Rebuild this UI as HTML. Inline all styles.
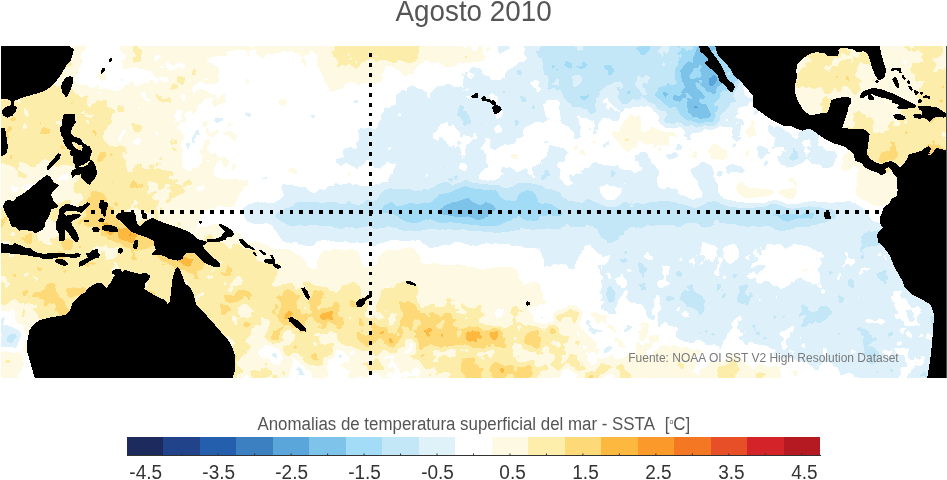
<!DOCTYPE html>
<html><head><meta charset="utf-8"><title>SSTA Agosto 2010</title>
<style>
html,body{margin:0;padding:0;background:#fff}
body{width:947px;height:480px;overflow:hidden;position:relative}
svg{position:absolute;left:0;top:0;display:block;will-change:transform}
text{font-family:"Liberation Sans",sans-serif}
</style></head><body>
<svg width="947" height="480" viewBox="0 0 947 480">
<defs>
<filter id="fld" x="-60" y="-20" width="1070" height="470" filterUnits="userSpaceOnUse" color-interpolation-filters="sRGB">
<feGaussianBlur in="SourceGraphic" stdDeviation="6" result="b"/>
<feColorMatrix in="b" type="matrix" values="1 0 0 0 0 1 0 0 0 0 1 0 0 0 0 0 0 0 0 1" result="fr"/>
<feColorMatrix in="b" type="matrix" values="0 1 0 0 0 0 1 0 0 0 0 1 0 0 0 0 0 0 0 1" result="mk"/>
<feTurbulence type="fractalNoise" baseFrequency="0.055" numOctaves="3" seed="7" result="n"/>
<feColorMatrix in="n" type="matrix" values="1 0 0 0 0 1 0 0 0 0 1 0 0 0 0 0 0 0 0 1" result="n1"/>
<feComposite in="mk" in2="n1" operator="arithmetic" k1="0.38" k2="-0.19" k3="0" k4="0.5" result="nz"/>
<feComposite in="fr" in2="nz" operator="arithmetic" k1="0" k2="1" k3="1" k4="-0.5" result="c"/>
<feComponentTransfer in="c">
<feFuncR type="discrete" tableValues="0.3529 0.4941 0.6392 0.7686 0.8745 1.0000 0.9961 0.9922 0.9922 0.9922 0.9843"/>
<feFuncG type="discrete" tableValues="0.6471 0.7647 0.8627 0.9059 0.9490 1.0000 0.9765 0.9333 0.8510 0.7216 0.6039"/>
<feFuncB type="discrete" tableValues="0.8510 0.9176 0.9647 0.9725 0.9804 1.0000 0.8902 0.6706 0.4706 0.2510 0.1647"/>
</feComponentTransfer></filter>
<clipPath id="mc"><rect x="1" y="46" width="945" height="332"/></clipPath>
</defs>
<g clip-path="url(#mc)">
<g filter="url(#fld)">
<rect x="-60" y="-20" width="1070" height="470" fill="#809900"/>
<rect x="-60" y="-20" width="80" height="86" fill="#ae9e00"/>
<rect x="20" y="-20" width="20" height="86" fill="#ae9e00"/>
<rect x="40" y="-20" width="20" height="86" fill="#ae9e00"/>
<rect x="60" y="-20" width="20" height="86" fill="#979e00"/>
<rect x="80" y="-20" width="20" height="86" fill="#809e00"/>
<rect x="100" y="-20" width="20" height="86" fill="#809e00"/>
<rect x="120" y="-20" width="20" height="86" fill="#979e00"/>
<rect x="140" y="-20" width="20" height="86" fill="#979e00"/>
<rect x="160" y="-20" width="20" height="86" fill="#979e00"/>
<rect x="180" y="-20" width="20" height="86" fill="#979e00"/>
<rect x="200" y="-20" width="20" height="86" fill="#979e00"/>
<rect x="220" y="-20" width="20" height="86" fill="#809e00"/>
<rect x="240" y="-20" width="20" height="86" fill="#806600"/>
<rect x="260" y="-20" width="20" height="86" fill="#806600"/>
<rect x="280" y="-20" width="20" height="86" fill="#806600"/>
<rect x="300" y="-20" width="20" height="86" fill="#806600"/>
<rect x="320" y="-20" width="20" height="86" fill="#976600"/>
<rect x="340" y="-20" width="20" height="86" fill="#ae6600"/>
<rect x="360" y="-20" width="20" height="86" fill="#ae6600"/>
<rect x="380" y="-20" width="20" height="86" fill="#ae6600"/>
<rect x="400" y="-20" width="20" height="86" fill="#ae6600"/>
<rect x="420" y="-20" width="20" height="86" fill="#976600"/>
<rect x="440" y="-20" width="20" height="86" fill="#976600"/>
<rect x="460" y="-20" width="20" height="86" fill="#979e00"/>
<rect x="480" y="-20" width="20" height="86" fill="#809e00"/>
<rect x="500" y="-20" width="20" height="86" fill="#809e00"/>
<rect x="520" y="-20" width="20" height="86" fill="#689e00"/>
<rect x="540" y="-20" width="20" height="86" fill="#519e00"/>
<rect x="560" y="-20" width="20" height="86" fill="#519e00"/>
<rect x="580" y="-20" width="20" height="86" fill="#519e00"/>
<rect x="600" y="-20" width="20" height="86" fill="#519e00"/>
<rect x="620" y="-20" width="20" height="86" fill="#519e00"/>
<rect x="640" y="-20" width="20" height="86" fill="#519e00"/>
<rect x="660" y="-20" width="20" height="86" fill="#519e00"/>
<rect x="680" y="-20" width="20" height="86" fill="#3a9e00"/>
<rect x="700" y="-20" width="20" height="86" fill="#239e00"/>
<rect x="720" y="-20" width="20" height="86" fill="#3a9e00"/>
<rect x="740" y="-20" width="20" height="86" fill="#689e00"/>
<rect x="760" y="-20" width="20" height="86" fill="#809e00"/>
<rect x="780" y="-20" width="20" height="86" fill="#979e00"/>
<rect x="800" y="-20" width="20" height="86" fill="#ae9e00"/>
<rect x="820" y="-20" width="20" height="86" fill="#ae9e00"/>
<rect x="840" y="-20" width="20" height="86" fill="#979e00"/>
<rect x="860" y="-20" width="20" height="86" fill="#ae9e00"/>
<rect x="880" y="-20" width="20" height="86" fill="#979e00"/>
<rect x="900" y="-20" width="20" height="86" fill="#979e00"/>
<rect x="920" y="-20" width="20" height="86" fill="#ae9e00"/>
<rect x="940" y="-20" width="70" height="86" fill="#979e00"/>
<rect x="-60" y="66" width="80" height="20" fill="#ae9e00"/>
<rect x="20" y="66" width="20" height="20" fill="#ae9e00"/>
<rect x="40" y="66" width="20" height="20" fill="#ae9e00"/>
<rect x="60" y="66" width="20" height="20" fill="#979e00"/>
<rect x="80" y="66" width="20" height="20" fill="#809e00"/>
<rect x="100" y="66" width="20" height="20" fill="#809e00"/>
<rect x="120" y="66" width="20" height="20" fill="#809e00"/>
<rect x="140" y="66" width="20" height="20" fill="#809e00"/>
<rect x="160" y="66" width="20" height="20" fill="#979e00"/>
<rect x="180" y="66" width="20" height="20" fill="#979e00"/>
<rect x="200" y="66" width="20" height="20" fill="#979e00"/>
<rect x="220" y="66" width="20" height="20" fill="#809e00"/>
<rect x="240" y="66" width="20" height="20" fill="#806600"/>
<rect x="260" y="66" width="20" height="20" fill="#806600"/>
<rect x="280" y="66" width="20" height="20" fill="#806600"/>
<rect x="300" y="66" width="20" height="20" fill="#806600"/>
<rect x="320" y="66" width="20" height="20" fill="#976600"/>
<rect x="340" y="66" width="20" height="20" fill="#976600"/>
<rect x="360" y="66" width="20" height="20" fill="#976600"/>
<rect x="380" y="66" width="20" height="20" fill="#806600"/>
<rect x="400" y="66" width="20" height="20" fill="#806600"/>
<rect x="420" y="66" width="20" height="20" fill="#806600"/>
<rect x="440" y="66" width="20" height="20" fill="#806600"/>
<rect x="460" y="66" width="20" height="20" fill="#689e00"/>
<rect x="480" y="66" width="20" height="20" fill="#809e00"/>
<rect x="500" y="66" width="20" height="20" fill="#689e00"/>
<rect x="520" y="66" width="20" height="20" fill="#689e00"/>
<rect x="540" y="66" width="20" height="20" fill="#519e00"/>
<rect x="560" y="66" width="20" height="20" fill="#519e00"/>
<rect x="580" y="66" width="20" height="20" fill="#519e00"/>
<rect x="600" y="66" width="20" height="20" fill="#519e00"/>
<rect x="620" y="66" width="20" height="20" fill="#519e00"/>
<rect x="640" y="66" width="20" height="20" fill="#519e00"/>
<rect x="660" y="66" width="20" height="20" fill="#519e00"/>
<rect x="680" y="66" width="20" height="20" fill="#239e00"/>
<rect x="700" y="66" width="20" height="20" fill="#0c9e00"/>
<rect x="720" y="66" width="20" height="20" fill="#239e00"/>
<rect x="740" y="66" width="20" height="20" fill="#689e00"/>
<rect x="760" y="66" width="20" height="20" fill="#809e00"/>
<rect x="780" y="66" width="20" height="20" fill="#979e00"/>
<rect x="800" y="66" width="20" height="20" fill="#ae9e00"/>
<rect x="820" y="66" width="20" height="20" fill="#ae9e00"/>
<rect x="840" y="66" width="20" height="20" fill="#ae9e00"/>
<rect x="860" y="66" width="20" height="20" fill="#979e00"/>
<rect x="880" y="66" width="20" height="20" fill="#979e00"/>
<rect x="900" y="66" width="20" height="20" fill="#979e00"/>
<rect x="920" y="66" width="20" height="20" fill="#ae9e00"/>
<rect x="940" y="66" width="70" height="20" fill="#ae9e00"/>
<rect x="-60" y="86" width="80" height="20" fill="#ae9e00"/>
<rect x="20" y="86" width="20" height="20" fill="#ae9e00"/>
<rect x="40" y="86" width="20" height="20" fill="#ae9e00"/>
<rect x="60" y="86" width="20" height="20" fill="#ae9e00"/>
<rect x="80" y="86" width="20" height="20" fill="#979e00"/>
<rect x="100" y="86" width="20" height="20" fill="#979e00"/>
<rect x="120" y="86" width="20" height="20" fill="#979e00"/>
<rect x="140" y="86" width="20" height="20" fill="#979e00"/>
<rect x="160" y="86" width="20" height="20" fill="#979e00"/>
<rect x="180" y="86" width="20" height="20" fill="#979e00"/>
<rect x="200" y="86" width="20" height="20" fill="#809e00"/>
<rect x="220" y="86" width="20" height="20" fill="#809e00"/>
<rect x="240" y="86" width="20" height="20" fill="#806600"/>
<rect x="260" y="86" width="20" height="20" fill="#806600"/>
<rect x="280" y="86" width="20" height="20" fill="#806600"/>
<rect x="300" y="86" width="20" height="20" fill="#806600"/>
<rect x="320" y="86" width="20" height="20" fill="#806600"/>
<rect x="340" y="86" width="20" height="20" fill="#806600"/>
<rect x="360" y="86" width="20" height="20" fill="#806600"/>
<rect x="380" y="86" width="20" height="20" fill="#806600"/>
<rect x="400" y="86" width="20" height="20" fill="#686600"/>
<rect x="420" y="86" width="20" height="20" fill="#686600"/>
<rect x="440" y="86" width="20" height="20" fill="#686600"/>
<rect x="460" y="86" width="20" height="20" fill="#689e00"/>
<rect x="480" y="86" width="20" height="20" fill="#689e00"/>
<rect x="500" y="86" width="20" height="20" fill="#689e00"/>
<rect x="520" y="86" width="20" height="20" fill="#689e00"/>
<rect x="540" y="86" width="20" height="20" fill="#689e00"/>
<rect x="560" y="86" width="20" height="20" fill="#519e00"/>
<rect x="580" y="86" width="20" height="20" fill="#519e00"/>
<rect x="600" y="86" width="20" height="20" fill="#689e00"/>
<rect x="620" y="86" width="20" height="20" fill="#519e00"/>
<rect x="640" y="86" width="20" height="20" fill="#519e00"/>
<rect x="660" y="86" width="20" height="20" fill="#3a9e00"/>
<rect x="680" y="86" width="20" height="20" fill="#239e00"/>
<rect x="700" y="86" width="20" height="20" fill="#239e00"/>
<rect x="720" y="86" width="20" height="20" fill="#519e00"/>
<rect x="740" y="86" width="20" height="20" fill="#809e00"/>
<rect x="760" y="86" width="20" height="20" fill="#809e00"/>
<rect x="780" y="86" width="20" height="20" fill="#979e00"/>
<rect x="800" y="86" width="20" height="20" fill="#979e00"/>
<rect x="820" y="86" width="20" height="20" fill="#979e00"/>
<rect x="840" y="86" width="20" height="20" fill="#ae9e00"/>
<rect x="860" y="86" width="20" height="20" fill="#979e00"/>
<rect x="880" y="86" width="20" height="20" fill="#979e00"/>
<rect x="900" y="86" width="20" height="20" fill="#979e00"/>
<rect x="920" y="86" width="20" height="20" fill="#ae9e00"/>
<rect x="940" y="86" width="70" height="20" fill="#ae9e00"/>
<rect x="-60" y="106" width="80" height="20" fill="#ae9e00"/>
<rect x="20" y="106" width="20" height="20" fill="#ae9e00"/>
<rect x="40" y="106" width="20" height="20" fill="#ae9e00"/>
<rect x="60" y="106" width="20" height="20" fill="#ae9e00"/>
<rect x="80" y="106" width="20" height="20" fill="#ae9e00"/>
<rect x="100" y="106" width="20" height="20" fill="#ae9e00"/>
<rect x="120" y="106" width="20" height="20" fill="#979e00"/>
<rect x="140" y="106" width="20" height="20" fill="#979e00"/>
<rect x="160" y="106" width="20" height="20" fill="#979e00"/>
<rect x="180" y="106" width="20" height="20" fill="#809e00"/>
<rect x="200" y="106" width="20" height="20" fill="#809e00"/>
<rect x="220" y="106" width="20" height="20" fill="#809e00"/>
<rect x="240" y="106" width="20" height="20" fill="#806600"/>
<rect x="260" y="106" width="20" height="20" fill="#806600"/>
<rect x="280" y="106" width="20" height="20" fill="#806600"/>
<rect x="300" y="106" width="20" height="20" fill="#806600"/>
<rect x="320" y="106" width="20" height="20" fill="#806600"/>
<rect x="340" y="106" width="20" height="20" fill="#806600"/>
<rect x="360" y="106" width="20" height="20" fill="#806600"/>
<rect x="380" y="106" width="20" height="20" fill="#686600"/>
<rect x="400" y="106" width="20" height="20" fill="#686600"/>
<rect x="420" y="106" width="20" height="20" fill="#686600"/>
<rect x="440" y="106" width="20" height="20" fill="#686600"/>
<rect x="460" y="106" width="20" height="20" fill="#689e00"/>
<rect x="480" y="106" width="20" height="20" fill="#689e00"/>
<rect x="500" y="106" width="20" height="20" fill="#689e00"/>
<rect x="520" y="106" width="20" height="20" fill="#689e00"/>
<rect x="540" y="106" width="20" height="20" fill="#809e00"/>
<rect x="560" y="106" width="20" height="20" fill="#689e00"/>
<rect x="580" y="106" width="20" height="20" fill="#689e00"/>
<rect x="600" y="106" width="20" height="20" fill="#689e00"/>
<rect x="620" y="106" width="20" height="20" fill="#979e00"/>
<rect x="640" y="106" width="20" height="20" fill="#809e00"/>
<rect x="660" y="106" width="20" height="20" fill="#519e00"/>
<rect x="680" y="106" width="20" height="20" fill="#3a9e00"/>
<rect x="700" y="106" width="20" height="20" fill="#3a9e00"/>
<rect x="720" y="106" width="20" height="20" fill="#689e00"/>
<rect x="740" y="106" width="20" height="20" fill="#809e00"/>
<rect x="760" y="106" width="20" height="20" fill="#809e00"/>
<rect x="780" y="106" width="20" height="20" fill="#809e00"/>
<rect x="800" y="106" width="20" height="20" fill="#979e00"/>
<rect x="820" y="106" width="20" height="20" fill="#979e00"/>
<rect x="840" y="106" width="20" height="20" fill="#979e00"/>
<rect x="860" y="106" width="20" height="20" fill="#979e00"/>
<rect x="880" y="106" width="20" height="20" fill="#979e00"/>
<rect x="900" y="106" width="20" height="20" fill="#ae9e00"/>
<rect x="920" y="106" width="20" height="20" fill="#ae9e00"/>
<rect x="940" y="106" width="70" height="20" fill="#ae9e00"/>
<rect x="-60" y="126" width="80" height="20" fill="#ae9e00"/>
<rect x="20" y="126" width="20" height="20" fill="#ae9e00"/>
<rect x="40" y="126" width="20" height="20" fill="#ae9e00"/>
<rect x="60" y="126" width="20" height="20" fill="#ae9e00"/>
<rect x="80" y="126" width="20" height="20" fill="#ae9e00"/>
<rect x="100" y="126" width="20" height="20" fill="#979e00"/>
<rect x="120" y="126" width="20" height="20" fill="#979e00"/>
<rect x="140" y="126" width="20" height="20" fill="#979e00"/>
<rect x="160" y="126" width="20" height="20" fill="#979e00"/>
<rect x="180" y="126" width="20" height="20" fill="#809e00"/>
<rect x="200" y="126" width="20" height="20" fill="#809e00"/>
<rect x="220" y="126" width="20" height="20" fill="#809e00"/>
<rect x="240" y="126" width="20" height="20" fill="#806600"/>
<rect x="260" y="126" width="20" height="20" fill="#806600"/>
<rect x="280" y="126" width="20" height="20" fill="#806600"/>
<rect x="300" y="126" width="20" height="20" fill="#806600"/>
<rect x="320" y="126" width="20" height="20" fill="#806600"/>
<rect x="340" y="126" width="20" height="20" fill="#806600"/>
<rect x="360" y="126" width="20" height="20" fill="#686600"/>
<rect x="380" y="126" width="20" height="20" fill="#686600"/>
<rect x="400" y="126" width="20" height="20" fill="#686600"/>
<rect x="420" y="126" width="20" height="20" fill="#686600"/>
<rect x="440" y="126" width="20" height="20" fill="#806600"/>
<rect x="460" y="126" width="20" height="20" fill="#689e00"/>
<rect x="480" y="126" width="20" height="20" fill="#689e00"/>
<rect x="500" y="126" width="20" height="20" fill="#689e00"/>
<rect x="520" y="126" width="20" height="20" fill="#809e00"/>
<rect x="540" y="126" width="20" height="20" fill="#809e00"/>
<rect x="560" y="126" width="20" height="20" fill="#809e00"/>
<rect x="580" y="126" width="20" height="20" fill="#809e00"/>
<rect x="600" y="126" width="20" height="20" fill="#809e00"/>
<rect x="620" y="126" width="20" height="20" fill="#979e00"/>
<rect x="640" y="126" width="20" height="20" fill="#979e00"/>
<rect x="660" y="126" width="20" height="20" fill="#809e00"/>
<rect x="680" y="126" width="20" height="20" fill="#809e00"/>
<rect x="700" y="126" width="20" height="20" fill="#809e00"/>
<rect x="720" y="126" width="20" height="20" fill="#809e00"/>
<rect x="740" y="126" width="20" height="20" fill="#809e00"/>
<rect x="760" y="126" width="20" height="20" fill="#809e00"/>
<rect x="780" y="126" width="20" height="20" fill="#689e00"/>
<rect x="800" y="126" width="20" height="20" fill="#689e00"/>
<rect x="820" y="126" width="20" height="20" fill="#979e00"/>
<rect x="840" y="126" width="20" height="20" fill="#ae9e00"/>
<rect x="860" y="126" width="20" height="20" fill="#ae9e00"/>
<rect x="880" y="126" width="20" height="20" fill="#ae9e00"/>
<rect x="900" y="126" width="20" height="20" fill="#ae9e00"/>
<rect x="920" y="126" width="20" height="20" fill="#ae9e00"/>
<rect x="940" y="126" width="70" height="20" fill="#ae9e00"/>
<rect x="-60" y="146" width="80" height="20" fill="#ae9e00"/>
<rect x="20" y="146" width="20" height="20" fill="#ae9e00"/>
<rect x="40" y="146" width="20" height="20" fill="#ae9e00"/>
<rect x="60" y="146" width="20" height="20" fill="#ae9e00"/>
<rect x="80" y="146" width="20" height="20" fill="#ae9e00"/>
<rect x="100" y="146" width="20" height="20" fill="#ae9e00"/>
<rect x="120" y="146" width="20" height="20" fill="#979e00"/>
<rect x="140" y="146" width="20" height="20" fill="#979e00"/>
<rect x="160" y="146" width="20" height="20" fill="#979e00"/>
<rect x="180" y="146" width="20" height="20" fill="#809e00"/>
<rect x="200" y="146" width="20" height="20" fill="#809e00"/>
<rect x="220" y="146" width="20" height="20" fill="#809e00"/>
<rect x="240" y="146" width="20" height="20" fill="#806600"/>
<rect x="260" y="146" width="20" height="20" fill="#806600"/>
<rect x="280" y="146" width="20" height="20" fill="#806600"/>
<rect x="300" y="146" width="20" height="20" fill="#806600"/>
<rect x="320" y="146" width="20" height="20" fill="#806600"/>
<rect x="340" y="146" width="20" height="20" fill="#686600"/>
<rect x="360" y="146" width="20" height="20" fill="#686600"/>
<rect x="380" y="146" width="20" height="20" fill="#686600"/>
<rect x="400" y="146" width="20" height="20" fill="#686600"/>
<rect x="420" y="146" width="20" height="20" fill="#686600"/>
<rect x="440" y="146" width="20" height="20" fill="#686600"/>
<rect x="460" y="146" width="20" height="20" fill="#689e00"/>
<rect x="480" y="146" width="20" height="20" fill="#809e00"/>
<rect x="500" y="146" width="20" height="20" fill="#809e00"/>
<rect x="520" y="146" width="20" height="20" fill="#809e00"/>
<rect x="540" y="146" width="20" height="20" fill="#689e00"/>
<rect x="560" y="146" width="20" height="20" fill="#809e00"/>
<rect x="580" y="146" width="20" height="20" fill="#809e00"/>
<rect x="600" y="146" width="20" height="20" fill="#809e00"/>
<rect x="620" y="146" width="20" height="20" fill="#809e00"/>
<rect x="640" y="146" width="20" height="20" fill="#809e00"/>
<rect x="660" y="146" width="20" height="20" fill="#809e00"/>
<rect x="680" y="146" width="20" height="20" fill="#809e00"/>
<rect x="700" y="146" width="20" height="20" fill="#809e00"/>
<rect x="720" y="146" width="20" height="20" fill="#809e00"/>
<rect x="740" y="146" width="20" height="20" fill="#809e00"/>
<rect x="760" y="146" width="20" height="20" fill="#689e00"/>
<rect x="780" y="146" width="20" height="20" fill="#689e00"/>
<rect x="800" y="146" width="20" height="20" fill="#689e00"/>
<rect x="820" y="146" width="20" height="20" fill="#689e00"/>
<rect x="840" y="146" width="20" height="20" fill="#979e00"/>
<rect x="860" y="146" width="20" height="20" fill="#ae9e00"/>
<rect x="880" y="146" width="20" height="20" fill="#c59e00"/>
<rect x="900" y="146" width="20" height="20" fill="#ae9e00"/>
<rect x="920" y="146" width="20" height="20" fill="#c59e00"/>
<rect x="940" y="146" width="70" height="20" fill="#ae9e00"/>
<rect x="-60" y="166" width="80" height="20" fill="#979e00"/>
<rect x="20" y="166" width="20" height="20" fill="#979e00"/>
<rect x="40" y="166" width="20" height="20" fill="#979e00"/>
<rect x="60" y="166" width="20" height="20" fill="#979e00"/>
<rect x="80" y="166" width="20" height="20" fill="#ae9e00"/>
<rect x="100" y="166" width="20" height="20" fill="#ae9e00"/>
<rect x="120" y="166" width="20" height="20" fill="#ae9e00"/>
<rect x="140" y="166" width="20" height="20" fill="#ae9e00"/>
<rect x="160" y="166" width="20" height="20" fill="#ae9e00"/>
<rect x="180" y="166" width="20" height="20" fill="#979e00"/>
<rect x="200" y="166" width="20" height="20" fill="#979e00"/>
<rect x="220" y="166" width="20" height="20" fill="#979e00"/>
<rect x="240" y="166" width="20" height="20" fill="#809e00"/>
<rect x="260" y="166" width="20" height="20" fill="#809e00"/>
<rect x="280" y="166" width="20" height="20" fill="#809e00"/>
<rect x="300" y="166" width="20" height="20" fill="#809e00"/>
<rect x="320" y="166" width="20" height="20" fill="#809e00"/>
<rect x="340" y="166" width="20" height="20" fill="#809e00"/>
<rect x="360" y="166" width="20" height="20" fill="#809e00"/>
<rect x="380" y="166" width="20" height="20" fill="#809e00"/>
<rect x="400" y="166" width="20" height="20" fill="#689e00"/>
<rect x="420" y="166" width="20" height="20" fill="#689e00"/>
<rect x="440" y="166" width="20" height="20" fill="#689e00"/>
<rect x="460" y="166" width="20" height="20" fill="#689e00"/>
<rect x="480" y="166" width="20" height="20" fill="#809e00"/>
<rect x="500" y="166" width="20" height="20" fill="#689e00"/>
<rect x="520" y="166" width="20" height="20" fill="#689e00"/>
<rect x="540" y="166" width="20" height="20" fill="#689e00"/>
<rect x="560" y="166" width="20" height="20" fill="#809e00"/>
<rect x="580" y="166" width="20" height="20" fill="#689e00"/>
<rect x="600" y="166" width="20" height="20" fill="#688000"/>
<rect x="620" y="166" width="20" height="20" fill="#688000"/>
<rect x="640" y="166" width="20" height="20" fill="#688000"/>
<rect x="660" y="166" width="20" height="20" fill="#808000"/>
<rect x="680" y="166" width="20" height="20" fill="#808000"/>
<rect x="700" y="166" width="20" height="20" fill="#688000"/>
<rect x="720" y="166" width="20" height="20" fill="#808000"/>
<rect x="740" y="166" width="20" height="20" fill="#808000"/>
<rect x="760" y="166" width="20" height="20" fill="#808000"/>
<rect x="780" y="166" width="20" height="20" fill="#808000"/>
<rect x="800" y="166" width="20" height="20" fill="#808000"/>
<rect x="820" y="166" width="20" height="20" fill="#808000"/>
<rect x="840" y="166" width="20" height="20" fill="#808000"/>
<rect x="860" y="166" width="20" height="20" fill="#978000"/>
<rect x="880" y="166" width="20" height="20" fill="#978000"/>
<rect x="900" y="166" width="20" height="20" fill="#978000"/>
<rect x="920" y="166" width="20" height="20" fill="#978000"/>
<rect x="940" y="166" width="70" height="20" fill="#978000"/>
<rect x="-60" y="186" width="80" height="20" fill="#979e00"/>
<rect x="20" y="186" width="20" height="20" fill="#979e00"/>
<rect x="40" y="186" width="20" height="20" fill="#979e00"/>
<rect x="60" y="186" width="20" height="20" fill="#979e00"/>
<rect x="80" y="186" width="20" height="20" fill="#ae9e00"/>
<rect x="100" y="186" width="20" height="20" fill="#ae9e00"/>
<rect x="120" y="186" width="20" height="20" fill="#ae9e00"/>
<rect x="140" y="186" width="20" height="20" fill="#ae9e00"/>
<rect x="160" y="186" width="20" height="20" fill="#979e00"/>
<rect x="180" y="186" width="20" height="20" fill="#979e00"/>
<rect x="200" y="186" width="20" height="20" fill="#979e00"/>
<rect x="220" y="186" width="20" height="20" fill="#979e00"/>
<rect x="240" y="186" width="20" height="20" fill="#803800"/>
<rect x="260" y="186" width="20" height="20" fill="#803800"/>
<rect x="280" y="186" width="20" height="20" fill="#683800"/>
<rect x="300" y="186" width="20" height="20" fill="#683800"/>
<rect x="320" y="186" width="20" height="20" fill="#683800"/>
<rect x="340" y="186" width="20" height="20" fill="#683800"/>
<rect x="360" y="186" width="20" height="20" fill="#683800"/>
<rect x="380" y="186" width="20" height="20" fill="#513800"/>
<rect x="400" y="186" width="20" height="20" fill="#513800"/>
<rect x="420" y="186" width="20" height="20" fill="#513800"/>
<rect x="440" y="186" width="20" height="20" fill="#3a3800"/>
<rect x="460" y="186" width="20" height="20" fill="#3a3800"/>
<rect x="480" y="186" width="20" height="20" fill="#3a3800"/>
<rect x="500" y="186" width="20" height="20" fill="#513800"/>
<rect x="520" y="186" width="20" height="20" fill="#3a3800"/>
<rect x="540" y="186" width="20" height="20" fill="#513800"/>
<rect x="560" y="186" width="20" height="20" fill="#683800"/>
<rect x="580" y="186" width="20" height="20" fill="#683800"/>
<rect x="600" y="186" width="20" height="20" fill="#803800"/>
<rect x="620" y="186" width="20" height="20" fill="#683800"/>
<rect x="640" y="186" width="20" height="20" fill="#683800"/>
<rect x="660" y="186" width="20" height="20" fill="#683800"/>
<rect x="680" y="186" width="20" height="20" fill="#803800"/>
<rect x="700" y="186" width="20" height="20" fill="#683800"/>
<rect x="720" y="186" width="20" height="20" fill="#803800"/>
<rect x="740" y="186" width="20" height="20" fill="#973800"/>
<rect x="760" y="186" width="20" height="20" fill="#973800"/>
<rect x="780" y="186" width="20" height="20" fill="#973800"/>
<rect x="800" y="186" width="20" height="20" fill="#803800"/>
<rect x="820" y="186" width="20" height="20" fill="#803800"/>
<rect x="840" y="186" width="20" height="20" fill="#803800"/>
<rect x="860" y="186" width="20" height="20" fill="#973800"/>
<rect x="880" y="186" width="20" height="20" fill="#973800"/>
<rect x="900" y="186" width="20" height="20" fill="#973800"/>
<rect x="920" y="186" width="20" height="20" fill="#973800"/>
<rect x="940" y="186" width="70" height="20" fill="#973800"/>
<rect x="-60" y="206" width="80" height="20" fill="#ae9e00"/>
<rect x="20" y="206" width="20" height="20" fill="#ae9e00"/>
<rect x="40" y="206" width="20" height="20" fill="#ae9e00"/>
<rect x="60" y="206" width="20" height="20" fill="#ae9e00"/>
<rect x="80" y="206" width="20" height="20" fill="#c59e00"/>
<rect x="100" y="206" width="20" height="20" fill="#c59e00"/>
<rect x="120" y="206" width="20" height="20" fill="#979e00"/>
<rect x="140" y="206" width="20" height="20" fill="#979e00"/>
<rect x="160" y="206" width="20" height="20" fill="#979e00"/>
<rect x="180" y="206" width="20" height="20" fill="#979e00"/>
<rect x="200" y="206" width="20" height="20" fill="#809e00"/>
<rect x="220" y="206" width="20" height="20" fill="#809e00"/>
<rect x="240" y="206" width="20" height="20" fill="#683800"/>
<rect x="260" y="206" width="20" height="20" fill="#683800"/>
<rect x="280" y="206" width="20" height="20" fill="#513800"/>
<rect x="300" y="206" width="20" height="20" fill="#513800"/>
<rect x="320" y="206" width="20" height="20" fill="#513800"/>
<rect x="340" y="206" width="20" height="20" fill="#513800"/>
<rect x="360" y="206" width="20" height="20" fill="#513800"/>
<rect x="380" y="206" width="20" height="20" fill="#513800"/>
<rect x="400" y="206" width="20" height="20" fill="#3a3800"/>
<rect x="420" y="206" width="20" height="20" fill="#3a3800"/>
<rect x="440" y="206" width="20" height="20" fill="#3a3800"/>
<rect x="460" y="206" width="20" height="20" fill="#233800"/>
<rect x="480" y="206" width="20" height="20" fill="#233800"/>
<rect x="500" y="206" width="20" height="20" fill="#3a3800"/>
<rect x="520" y="206" width="20" height="20" fill="#3a3800"/>
<rect x="540" y="206" width="20" height="20" fill="#513800"/>
<rect x="560" y="206" width="20" height="20" fill="#513800"/>
<rect x="580" y="206" width="20" height="20" fill="#513800"/>
<rect x="600" y="206" width="20" height="20" fill="#513800"/>
<rect x="620" y="206" width="20" height="20" fill="#513800"/>
<rect x="640" y="206" width="20" height="20" fill="#513800"/>
<rect x="660" y="206" width="20" height="20" fill="#513800"/>
<rect x="680" y="206" width="20" height="20" fill="#513800"/>
<rect x="700" y="206" width="20" height="20" fill="#513800"/>
<rect x="720" y="206" width="20" height="20" fill="#513800"/>
<rect x="740" y="206" width="20" height="20" fill="#513800"/>
<rect x="760" y="206" width="20" height="20" fill="#513800"/>
<rect x="780" y="206" width="20" height="20" fill="#3a3800"/>
<rect x="800" y="206" width="20" height="20" fill="#513800"/>
<rect x="820" y="206" width="20" height="20" fill="#683800"/>
<rect x="840" y="206" width="20" height="20" fill="#683800"/>
<rect x="860" y="206" width="20" height="20" fill="#803800"/>
<rect x="880" y="206" width="20" height="20" fill="#803800"/>
<rect x="900" y="206" width="20" height="20" fill="#803800"/>
<rect x="920" y="206" width="20" height="20" fill="#803800"/>
<rect x="940" y="206" width="70" height="20" fill="#803800"/>
<rect x="-60" y="226" width="80" height="20" fill="#ae9e00"/>
<rect x="20" y="226" width="20" height="20" fill="#ae9e00"/>
<rect x="40" y="226" width="20" height="20" fill="#979e00"/>
<rect x="60" y="226" width="20" height="20" fill="#ae9e00"/>
<rect x="80" y="226" width="20" height="20" fill="#ae9e00"/>
<rect x="100" y="226" width="20" height="20" fill="#c59e00"/>
<rect x="120" y="226" width="20" height="20" fill="#dc9e00"/>
<rect x="140" y="226" width="20" height="20" fill="#c59e00"/>
<rect x="160" y="226" width="20" height="20" fill="#ae9e00"/>
<rect x="180" y="226" width="20" height="20" fill="#979e00"/>
<rect x="200" y="226" width="20" height="20" fill="#979e00"/>
<rect x="220" y="226" width="20" height="20" fill="#979e00"/>
<rect x="240" y="226" width="20" height="20" fill="#803800"/>
<rect x="260" y="226" width="20" height="20" fill="#803800"/>
<rect x="280" y="226" width="20" height="20" fill="#683800"/>
<rect x="300" y="226" width="20" height="20" fill="#683800"/>
<rect x="320" y="226" width="20" height="20" fill="#683800"/>
<rect x="340" y="226" width="20" height="20" fill="#683800"/>
<rect x="360" y="226" width="20" height="20" fill="#683800"/>
<rect x="380" y="226" width="20" height="20" fill="#683800"/>
<rect x="400" y="226" width="20" height="20" fill="#683800"/>
<rect x="420" y="226" width="20" height="20" fill="#683800"/>
<rect x="440" y="226" width="20" height="20" fill="#683800"/>
<rect x="460" y="226" width="20" height="20" fill="#683800"/>
<rect x="480" y="226" width="20" height="20" fill="#683800"/>
<rect x="500" y="226" width="20" height="20" fill="#683800"/>
<rect x="520" y="226" width="20" height="20" fill="#683800"/>
<rect x="540" y="226" width="20" height="20" fill="#683800"/>
<rect x="560" y="226" width="20" height="20" fill="#683800"/>
<rect x="580" y="226" width="20" height="20" fill="#683800"/>
<rect x="600" y="226" width="20" height="20" fill="#513800"/>
<rect x="620" y="226" width="20" height="20" fill="#683800"/>
<rect x="640" y="226" width="20" height="20" fill="#683800"/>
<rect x="660" y="226" width="20" height="20" fill="#683800"/>
<rect x="680" y="226" width="20" height="20" fill="#683800"/>
<rect x="700" y="226" width="20" height="20" fill="#683800"/>
<rect x="720" y="226" width="20" height="20" fill="#683800"/>
<rect x="740" y="226" width="20" height="20" fill="#683800"/>
<rect x="760" y="226" width="20" height="20" fill="#683800"/>
<rect x="780" y="226" width="20" height="20" fill="#683800"/>
<rect x="800" y="226" width="20" height="20" fill="#683800"/>
<rect x="820" y="226" width="20" height="20" fill="#683800"/>
<rect x="840" y="226" width="20" height="20" fill="#683800"/>
<rect x="860" y="226" width="20" height="20" fill="#513800"/>
<rect x="880" y="226" width="20" height="20" fill="#513800"/>
<rect x="900" y="226" width="20" height="20" fill="#513800"/>
<rect x="920" y="226" width="20" height="20" fill="#513800"/>
<rect x="940" y="226" width="70" height="20" fill="#513800"/>
<rect x="-60" y="246" width="80" height="20" fill="#ae9e00"/>
<rect x="20" y="246" width="20" height="20" fill="#ae9e00"/>
<rect x="40" y="246" width="20" height="20" fill="#ae9e00"/>
<rect x="60" y="246" width="20" height="20" fill="#ae9e00"/>
<rect x="80" y="246" width="20" height="20" fill="#ae9e00"/>
<rect x="100" y="246" width="20" height="20" fill="#979e00"/>
<rect x="120" y="246" width="20" height="20" fill="#ae9e00"/>
<rect x="140" y="246" width="20" height="20" fill="#ae9e00"/>
<rect x="160" y="246" width="20" height="20" fill="#c59e00"/>
<rect x="180" y="246" width="20" height="20" fill="#c59e00"/>
<rect x="200" y="246" width="20" height="20" fill="#ae9e00"/>
<rect x="220" y="246" width="20" height="20" fill="#ae9e00"/>
<rect x="240" y="246" width="20" height="20" fill="#ae4000"/>
<rect x="260" y="246" width="20" height="20" fill="#974000"/>
<rect x="280" y="246" width="20" height="20" fill="#974000"/>
<rect x="300" y="246" width="20" height="20" fill="#804000"/>
<rect x="320" y="246" width="20" height="20" fill="#974000"/>
<rect x="340" y="246" width="20" height="20" fill="#974000"/>
<rect x="360" y="246" width="20" height="20" fill="#804000"/>
<rect x="380" y="246" width="20" height="20" fill="#974000"/>
<rect x="400" y="246" width="20" height="20" fill="#974000"/>
<rect x="420" y="246" width="20" height="20" fill="#804000"/>
<rect x="440" y="246" width="20" height="20" fill="#804000"/>
<rect x="460" y="246" width="20" height="20" fill="#804000"/>
<rect x="480" y="246" width="20" height="20" fill="#804000"/>
<rect x="500" y="246" width="20" height="20" fill="#804000"/>
<rect x="520" y="246" width="20" height="20" fill="#804000"/>
<rect x="540" y="246" width="20" height="20" fill="#684000"/>
<rect x="560" y="246" width="20" height="20" fill="#684000"/>
<rect x="580" y="246" width="20" height="20" fill="#804000"/>
<rect x="600" y="246" width="20" height="20" fill="#689e00"/>
<rect x="620" y="246" width="20" height="20" fill="#689e00"/>
<rect x="640" y="246" width="20" height="20" fill="#689e00"/>
<rect x="660" y="246" width="20" height="20" fill="#689e00"/>
<rect x="680" y="246" width="20" height="20" fill="#689e00"/>
<rect x="700" y="246" width="20" height="20" fill="#809e00"/>
<rect x="720" y="246" width="20" height="20" fill="#809e00"/>
<rect x="740" y="246" width="20" height="20" fill="#689e00"/>
<rect x="760" y="246" width="20" height="20" fill="#809e00"/>
<rect x="780" y="246" width="20" height="20" fill="#809e00"/>
<rect x="800" y="246" width="20" height="20" fill="#809e00"/>
<rect x="820" y="246" width="20" height="20" fill="#689e00"/>
<rect x="840" y="246" width="20" height="20" fill="#689e00"/>
<rect x="860" y="246" width="20" height="20" fill="#689e00"/>
<rect x="880" y="246" width="20" height="20" fill="#689e00"/>
<rect x="900" y="246" width="20" height="20" fill="#689e00"/>
<rect x="920" y="246" width="20" height="20" fill="#689e00"/>
<rect x="940" y="246" width="70" height="20" fill="#689e00"/>
<rect x="-60" y="266" width="80" height="20" fill="#ae9e00"/>
<rect x="20" y="266" width="20" height="20" fill="#ae9e00"/>
<rect x="40" y="266" width="20" height="20" fill="#ae9e00"/>
<rect x="60" y="266" width="20" height="20" fill="#ae9e00"/>
<rect x="80" y="266" width="20" height="20" fill="#ae9e00"/>
<rect x="100" y="266" width="20" height="20" fill="#ae9e00"/>
<rect x="120" y="266" width="20" height="20" fill="#ae9e00"/>
<rect x="140" y="266" width="20" height="20" fill="#ae9e00"/>
<rect x="160" y="266" width="20" height="20" fill="#ae9e00"/>
<rect x="180" y="266" width="20" height="20" fill="#ae9e00"/>
<rect x="200" y="266" width="20" height="20" fill="#ae9e00"/>
<rect x="220" y="266" width="20" height="20" fill="#aeff00"/>
<rect x="240" y="266" width="20" height="20" fill="#ae4000"/>
<rect x="260" y="266" width="20" height="20" fill="#ae4000"/>
<rect x="280" y="266" width="20" height="20" fill="#974000"/>
<rect x="300" y="266" width="20" height="20" fill="#974000"/>
<rect x="320" y="266" width="20" height="20" fill="#974000"/>
<rect x="340" y="266" width="20" height="20" fill="#974000"/>
<rect x="360" y="266" width="20" height="20" fill="#974000"/>
<rect x="380" y="266" width="20" height="20" fill="#974000"/>
<rect x="400" y="266" width="20" height="20" fill="#974000"/>
<rect x="420" y="266" width="20" height="20" fill="#974000"/>
<rect x="440" y="266" width="20" height="20" fill="#974000"/>
<rect x="460" y="266" width="20" height="20" fill="#974000"/>
<rect x="480" y="266" width="20" height="20" fill="#974000"/>
<rect x="500" y="266" width="20" height="20" fill="#974000"/>
<rect x="520" y="266" width="20" height="20" fill="#804000"/>
<rect x="540" y="266" width="20" height="20" fill="#804000"/>
<rect x="560" y="266" width="20" height="20" fill="#804000"/>
<rect x="580" y="266" width="20" height="20" fill="#804000"/>
<rect x="600" y="266" width="20" height="20" fill="#68ff00"/>
<rect x="620" y="266" width="20" height="20" fill="#689e00"/>
<rect x="640" y="266" width="20" height="20" fill="#689e00"/>
<rect x="660" y="266" width="20" height="20" fill="#689e00"/>
<rect x="680" y="266" width="20" height="20" fill="#689e00"/>
<rect x="700" y="266" width="20" height="20" fill="#689e00"/>
<rect x="720" y="266" width="20" height="20" fill="#689e00"/>
<rect x="740" y="266" width="20" height="20" fill="#689e00"/>
<rect x="760" y="266" width="20" height="20" fill="#809e00"/>
<rect x="780" y="266" width="20" height="20" fill="#809e00"/>
<rect x="800" y="266" width="20" height="20" fill="#809e00"/>
<rect x="820" y="266" width="20" height="20" fill="#689e00"/>
<rect x="840" y="266" width="20" height="20" fill="#689e00"/>
<rect x="860" y="266" width="20" height="20" fill="#689e00"/>
<rect x="880" y="266" width="20" height="20" fill="#689e00"/>
<rect x="900" y="266" width="20" height="20" fill="#689e00"/>
<rect x="920" y="266" width="20" height="20" fill="#689e00"/>
<rect x="940" y="266" width="70" height="20" fill="#689e00"/>
<rect x="-60" y="286" width="80" height="20" fill="#ae9e00"/>
<rect x="20" y="286" width="20" height="20" fill="#ae9e00"/>
<rect x="40" y="286" width="20" height="20" fill="#c59e00"/>
<rect x="60" y="286" width="20" height="20" fill="#c59e00"/>
<rect x="80" y="286" width="20" height="20" fill="#ae9e00"/>
<rect x="100" y="286" width="20" height="20" fill="#ae9e00"/>
<rect x="120" y="286" width="20" height="20" fill="#ae9e00"/>
<rect x="140" y="286" width="20" height="20" fill="#ae9e00"/>
<rect x="160" y="286" width="20" height="20" fill="#ae9e00"/>
<rect x="180" y="286" width="20" height="20" fill="#ae9e00"/>
<rect x="200" y="286" width="20" height="20" fill="#ae9e00"/>
<rect x="220" y="286" width="20" height="20" fill="#aeff00"/>
<rect x="240" y="286" width="20" height="20" fill="#aeff00"/>
<rect x="260" y="286" width="20" height="20" fill="#aeff00"/>
<rect x="280" y="286" width="20" height="20" fill="#c5ff00"/>
<rect x="300" y="286" width="20" height="20" fill="#aeff00"/>
<rect x="320" y="286" width="20" height="20" fill="#aeff00"/>
<rect x="340" y="286" width="20" height="20" fill="#ae5900"/>
<rect x="360" y="286" width="20" height="20" fill="#975900"/>
<rect x="380" y="286" width="20" height="20" fill="#ae5900"/>
<rect x="400" y="286" width="20" height="20" fill="#ae5900"/>
<rect x="420" y="286" width="20" height="20" fill="#975900"/>
<rect x="440" y="286" width="20" height="20" fill="#975900"/>
<rect x="460" y="286" width="20" height="20" fill="#975900"/>
<rect x="480" y="286" width="20" height="20" fill="#975900"/>
<rect x="500" y="286" width="20" height="20" fill="#975900"/>
<rect x="520" y="286" width="20" height="20" fill="#975900"/>
<rect x="540" y="286" width="20" height="20" fill="#805900"/>
<rect x="560" y="286" width="20" height="20" fill="#805900"/>
<rect x="580" y="286" width="20" height="20" fill="#805900"/>
<rect x="600" y="286" width="20" height="20" fill="#68ff00"/>
<rect x="620" y="286" width="20" height="20" fill="#689e00"/>
<rect x="640" y="286" width="20" height="20" fill="#689e00"/>
<rect x="660" y="286" width="20" height="20" fill="#689e00"/>
<rect x="680" y="286" width="20" height="20" fill="#519e00"/>
<rect x="700" y="286" width="20" height="20" fill="#689e00"/>
<rect x="720" y="286" width="20" height="20" fill="#689e00"/>
<rect x="740" y="286" width="20" height="20" fill="#519e00"/>
<rect x="760" y="286" width="20" height="20" fill="#689e00"/>
<rect x="780" y="286" width="20" height="20" fill="#689e00"/>
<rect x="800" y="286" width="20" height="20" fill="#689e00"/>
<rect x="820" y="286" width="20" height="20" fill="#689e00"/>
<rect x="840" y="286" width="20" height="20" fill="#689e00"/>
<rect x="860" y="286" width="20" height="20" fill="#689e00"/>
<rect x="880" y="286" width="20" height="20" fill="#689e00"/>
<rect x="900" y="286" width="20" height="20" fill="#689e00"/>
<rect x="920" y="286" width="20" height="20" fill="#689e00"/>
<rect x="940" y="286" width="70" height="20" fill="#689e00"/>
<rect x="-60" y="306" width="80" height="20" fill="#809e00"/>
<rect x="20" y="306" width="20" height="20" fill="#979e00"/>
<rect x="40" y="306" width="20" height="20" fill="#ae9e00"/>
<rect x="60" y="306" width="20" height="20" fill="#ae9e00"/>
<rect x="80" y="306" width="20" height="20" fill="#ae9e00"/>
<rect x="100" y="306" width="20" height="20" fill="#ae9e00"/>
<rect x="120" y="306" width="20" height="20" fill="#ae9e00"/>
<rect x="140" y="306" width="20" height="20" fill="#ae9e00"/>
<rect x="160" y="306" width="20" height="20" fill="#ae9e00"/>
<rect x="180" y="306" width="20" height="20" fill="#ae9e00"/>
<rect x="200" y="306" width="20" height="20" fill="#ae9e00"/>
<rect x="220" y="306" width="20" height="20" fill="#aeff00"/>
<rect x="240" y="306" width="20" height="20" fill="#aeff00"/>
<rect x="260" y="306" width="20" height="20" fill="#aeff00"/>
<rect x="280" y="306" width="20" height="20" fill="#c5ff00"/>
<rect x="300" y="306" width="20" height="20" fill="#aeff00"/>
<rect x="320" y="306" width="20" height="20" fill="#c5ff00"/>
<rect x="340" y="306" width="20" height="20" fill="#aeff00"/>
<rect x="360" y="306" width="20" height="20" fill="#aeff00"/>
<rect x="380" y="306" width="20" height="20" fill="#aeff00"/>
<rect x="400" y="306" width="20" height="20" fill="#c5ff00"/>
<rect x="420" y="306" width="20" height="20" fill="#aeff00"/>
<rect x="440" y="306" width="20" height="20" fill="#aeff00"/>
<rect x="460" y="306" width="20" height="20" fill="#aeff00"/>
<rect x="480" y="306" width="20" height="20" fill="#97ff00"/>
<rect x="500" y="306" width="20" height="20" fill="#97ff00"/>
<rect x="520" y="306" width="20" height="20" fill="#97ff00"/>
<rect x="540" y="306" width="20" height="20" fill="#80ff00"/>
<rect x="560" y="306" width="20" height="20" fill="#97ff00"/>
<rect x="580" y="306" width="20" height="20" fill="#80ff00"/>
<rect x="600" y="306" width="20" height="20" fill="#80ff00"/>
<rect x="620" y="306" width="20" height="20" fill="#809e00"/>
<rect x="640" y="306" width="20" height="20" fill="#809e00"/>
<rect x="660" y="306" width="20" height="20" fill="#689e00"/>
<rect x="680" y="306" width="20" height="20" fill="#689e00"/>
<rect x="700" y="306" width="20" height="20" fill="#689e00"/>
<rect x="720" y="306" width="20" height="20" fill="#689e00"/>
<rect x="740" y="306" width="20" height="20" fill="#689e00"/>
<rect x="760" y="306" width="20" height="20" fill="#689e00"/>
<rect x="780" y="306" width="20" height="20" fill="#689e00"/>
<rect x="800" y="306" width="20" height="20" fill="#519e00"/>
<rect x="820" y="306" width="20" height="20" fill="#689e00"/>
<rect x="840" y="306" width="20" height="20" fill="#689e00"/>
<rect x="860" y="306" width="20" height="20" fill="#689e00"/>
<rect x="880" y="306" width="20" height="20" fill="#689e00"/>
<rect x="900" y="306" width="20" height="20" fill="#809e00"/>
<rect x="920" y="306" width="20" height="20" fill="#689e00"/>
<rect x="940" y="306" width="70" height="20" fill="#689e00"/>
<rect x="-60" y="326" width="80" height="20" fill="#689e00"/>
<rect x="20" y="326" width="20" height="20" fill="#979e00"/>
<rect x="40" y="326" width="20" height="20" fill="#979e00"/>
<rect x="60" y="326" width="20" height="20" fill="#ae9e00"/>
<rect x="80" y="326" width="20" height="20" fill="#ae9e00"/>
<rect x="100" y="326" width="20" height="20" fill="#ae9e00"/>
<rect x="120" y="326" width="20" height="20" fill="#ae9e00"/>
<rect x="140" y="326" width="20" height="20" fill="#ae9e00"/>
<rect x="160" y="326" width="20" height="20" fill="#ae9e00"/>
<rect x="180" y="326" width="20" height="20" fill="#ae9e00"/>
<rect x="200" y="326" width="20" height="20" fill="#ae9e00"/>
<rect x="220" y="326" width="20" height="20" fill="#aeff00"/>
<rect x="240" y="326" width="20" height="20" fill="#97ff00"/>
<rect x="260" y="326" width="20" height="20" fill="#aeff00"/>
<rect x="280" y="326" width="20" height="20" fill="#aeff00"/>
<rect x="300" y="326" width="20" height="20" fill="#aeff00"/>
<rect x="320" y="326" width="20" height="20" fill="#aeff00"/>
<rect x="340" y="326" width="20" height="20" fill="#aeff00"/>
<rect x="360" y="326" width="20" height="20" fill="#c5ff00"/>
<rect x="380" y="326" width="20" height="20" fill="#c5ff00"/>
<rect x="400" y="326" width="20" height="20" fill="#aeff00"/>
<rect x="420" y="326" width="20" height="20" fill="#c5ff00"/>
<rect x="440" y="326" width="20" height="20" fill="#c5ff00"/>
<rect x="460" y="326" width="20" height="20" fill="#c5ff00"/>
<rect x="480" y="326" width="20" height="20" fill="#aeff00"/>
<rect x="500" y="326" width="20" height="20" fill="#aeff00"/>
<rect x="520" y="326" width="20" height="20" fill="#aeff00"/>
<rect x="540" y="326" width="20" height="20" fill="#aeff00"/>
<rect x="560" y="326" width="20" height="20" fill="#97ff00"/>
<rect x="580" y="326" width="20" height="20" fill="#80ff00"/>
<rect x="600" y="326" width="20" height="20" fill="#80ff00"/>
<rect x="620" y="326" width="20" height="20" fill="#809e00"/>
<rect x="640" y="326" width="20" height="20" fill="#809e00"/>
<rect x="660" y="326" width="20" height="20" fill="#809e00"/>
<rect x="680" y="326" width="20" height="20" fill="#689e00"/>
<rect x="700" y="326" width="20" height="20" fill="#689e00"/>
<rect x="720" y="326" width="20" height="20" fill="#689e00"/>
<rect x="740" y="326" width="20" height="20" fill="#689e00"/>
<rect x="760" y="326" width="20" height="20" fill="#689e00"/>
<rect x="780" y="326" width="20" height="20" fill="#689e00"/>
<rect x="800" y="326" width="20" height="20" fill="#689e00"/>
<rect x="820" y="326" width="20" height="20" fill="#689e00"/>
<rect x="840" y="326" width="20" height="20" fill="#689e00"/>
<rect x="860" y="326" width="20" height="20" fill="#689e00"/>
<rect x="880" y="326" width="20" height="20" fill="#689e00"/>
<rect x="900" y="326" width="20" height="20" fill="#689e00"/>
<rect x="920" y="326" width="20" height="20" fill="#689e00"/>
<rect x="940" y="326" width="70" height="20" fill="#689e00"/>
<rect x="-60" y="346" width="80" height="20" fill="#979e00"/>
<rect x="20" y="346" width="20" height="20" fill="#979e00"/>
<rect x="40" y="346" width="20" height="20" fill="#979e00"/>
<rect x="60" y="346" width="20" height="20" fill="#ae9e00"/>
<rect x="80" y="346" width="20" height="20" fill="#ae9e00"/>
<rect x="100" y="346" width="20" height="20" fill="#ae9e00"/>
<rect x="120" y="346" width="20" height="20" fill="#ae9e00"/>
<rect x="140" y="346" width="20" height="20" fill="#ae9e00"/>
<rect x="160" y="346" width="20" height="20" fill="#ae9e00"/>
<rect x="180" y="346" width="20" height="20" fill="#ae9e00"/>
<rect x="200" y="346" width="20" height="20" fill="#ae9e00"/>
<rect x="220" y="346" width="20" height="20" fill="#aeff00"/>
<rect x="240" y="346" width="20" height="20" fill="#97ff00"/>
<rect x="260" y="346" width="20" height="20" fill="#80ff00"/>
<rect x="280" y="346" width="20" height="20" fill="#97ff00"/>
<rect x="300" y="346" width="20" height="20" fill="#aeff00"/>
<rect x="320" y="346" width="20" height="20" fill="#97ff00"/>
<rect x="340" y="346" width="20" height="20" fill="#97ff00"/>
<rect x="360" y="346" width="20" height="20" fill="#aeff00"/>
<rect x="380" y="346" width="20" height="20" fill="#97ff00"/>
<rect x="400" y="346" width="20" height="20" fill="#97ff00"/>
<rect x="420" y="346" width="20" height="20" fill="#aeff00"/>
<rect x="440" y="346" width="20" height="20" fill="#aeff00"/>
<rect x="460" y="346" width="20" height="20" fill="#c5ff00"/>
<rect x="480" y="346" width="20" height="20" fill="#aeff00"/>
<rect x="500" y="346" width="20" height="20" fill="#aeff00"/>
<rect x="520" y="346" width="20" height="20" fill="#aeff00"/>
<rect x="540" y="346" width="20" height="20" fill="#97ff00"/>
<rect x="560" y="346" width="20" height="20" fill="#aeff00"/>
<rect x="580" y="346" width="20" height="20" fill="#97ff00"/>
<rect x="600" y="346" width="20" height="20" fill="#97ff00"/>
<rect x="620" y="346" width="20" height="20" fill="#979e00"/>
<rect x="640" y="346" width="20" height="20" fill="#979e00"/>
<rect x="660" y="346" width="20" height="20" fill="#979e00"/>
<rect x="680" y="346" width="20" height="20" fill="#979e00"/>
<rect x="700" y="346" width="20" height="20" fill="#809e00"/>
<rect x="720" y="346" width="20" height="20" fill="#979e00"/>
<rect x="740" y="346" width="20" height="20" fill="#809e00"/>
<rect x="760" y="346" width="20" height="20" fill="#809e00"/>
<rect x="780" y="346" width="20" height="20" fill="#809e00"/>
<rect x="800" y="346" width="20" height="20" fill="#689e00"/>
<rect x="820" y="346" width="20" height="20" fill="#689e00"/>
<rect x="840" y="346" width="20" height="20" fill="#689e00"/>
<rect x="860" y="346" width="20" height="20" fill="#519e00"/>
<rect x="880" y="346" width="20" height="20" fill="#689e00"/>
<rect x="900" y="346" width="20" height="20" fill="#809e00"/>
<rect x="920" y="346" width="20" height="20" fill="#689e00"/>
<rect x="940" y="346" width="70" height="20" fill="#689e00"/>
<rect x="-60" y="366" width="80" height="84" fill="#979e00"/>
<rect x="20" y="366" width="20" height="84" fill="#809e00"/>
<rect x="40" y="366" width="20" height="84" fill="#979e00"/>
<rect x="60" y="366" width="20" height="84" fill="#ae9e00"/>
<rect x="80" y="366" width="20" height="84" fill="#ae9e00"/>
<rect x="100" y="366" width="20" height="84" fill="#ae9e00"/>
<rect x="120" y="366" width="20" height="84" fill="#ae9e00"/>
<rect x="140" y="366" width="20" height="84" fill="#ae9e00"/>
<rect x="160" y="366" width="20" height="84" fill="#ae9e00"/>
<rect x="180" y="366" width="20" height="84" fill="#ae9e00"/>
<rect x="200" y="366" width="20" height="84" fill="#ae9e00"/>
<rect x="220" y="366" width="20" height="84" fill="#aeff00"/>
<rect x="240" y="366" width="20" height="84" fill="#97ff00"/>
<rect x="260" y="366" width="20" height="84" fill="#97ff00"/>
<rect x="280" y="366" width="20" height="84" fill="#80ff00"/>
<rect x="300" y="366" width="20" height="84" fill="#97ff00"/>
<rect x="320" y="366" width="20" height="84" fill="#80ff00"/>
<rect x="340" y="366" width="20" height="84" fill="#80ff00"/>
<rect x="360" y="366" width="20" height="84" fill="#97ff00"/>
<rect x="380" y="366" width="20" height="84" fill="#97ff00"/>
<rect x="400" y="366" width="20" height="84" fill="#97ff00"/>
<rect x="420" y="366" width="20" height="84" fill="#97ff00"/>
<rect x="440" y="366" width="20" height="84" fill="#aeff00"/>
<rect x="460" y="366" width="20" height="84" fill="#c5ff00"/>
<rect x="480" y="366" width="20" height="84" fill="#aeff00"/>
<rect x="500" y="366" width="20" height="84" fill="#aeff00"/>
<rect x="520" y="366" width="20" height="84" fill="#aeff00"/>
<rect x="540" y="366" width="20" height="84" fill="#97ff00"/>
<rect x="560" y="366" width="20" height="84" fill="#97ff00"/>
<rect x="580" y="366" width="20" height="84" fill="#aeff00"/>
<rect x="600" y="366" width="20" height="84" fill="#97ff00"/>
<rect x="620" y="366" width="20" height="84" fill="#979e00"/>
<rect x="640" y="366" width="20" height="84" fill="#979e00"/>
<rect x="660" y="366" width="20" height="84" fill="#979e00"/>
<rect x="680" y="366" width="20" height="84" fill="#979e00"/>
<rect x="700" y="366" width="20" height="84" fill="#979e00"/>
<rect x="720" y="366" width="20" height="84" fill="#ae9e00"/>
<rect x="740" y="366" width="20" height="84" fill="#979e00"/>
<rect x="760" y="366" width="20" height="84" fill="#979e00"/>
<rect x="780" y="366" width="20" height="84" fill="#809e00"/>
<rect x="800" y="366" width="20" height="84" fill="#809e00"/>
<rect x="820" y="366" width="20" height="84" fill="#809e00"/>
<rect x="840" y="366" width="20" height="84" fill="#809e00"/>
<rect x="860" y="366" width="20" height="84" fill="#689e00"/>
<rect x="880" y="366" width="20" height="84" fill="#689e00"/>
<rect x="900" y="366" width="20" height="84" fill="#689e00"/>
<rect x="920" y="366" width="20" height="84" fill="#689e00"/>
<rect x="940" y="366" width="70" height="84" fill="#689e00"/>
<ellipse cx="560.0" cy="211.0" rx="320.0" ry="9.0" transform="rotate(0.0 560.0 211.0)" fill="#513800"/>
<ellipse cx="470.0" cy="210.0" rx="110.0" ry="8.0" transform="rotate(0.0 470.0 210.0)" fill="#3a3800"/>
<ellipse cx="330.0" cy="211.0" rx="45.0" ry="7.0" transform="rotate(0.0 330.0 211.0)" fill="#463800"/>
<ellipse cx="468.0" cy="209.0" rx="38.0" ry="7.0" transform="rotate(0.0 468.0 209.0)" fill="#1c3800"/>
<ellipse cx="790.0" cy="213.0" rx="45.0" ry="6.0" transform="rotate(3.0 790.0 213.0)" fill="#3f3800"/>
<ellipse cx="775.0" cy="205.0" rx="6.0" ry="4.0" transform="rotate(0.0 775.0 205.0)" fill="#233800"/>
<ellipse cx="702.0" cy="92.0" rx="14.0" ry="24.0" transform="rotate(-20.0 702.0 92.0)" fill="#2c9e00"/>
<ellipse cx="710.0" cy="78.0" rx="5.0" ry="10.0" transform="rotate(-30.0 710.0 78.0)" fill="#139e00"/>
<ellipse cx="692.0" cy="108.0" rx="9.0" ry="11.0" transform="rotate(0.0 692.0 108.0)" fill="#239e00"/>
<ellipse cx="722.0" cy="68.0" rx="3.0" ry="15.0" transform="rotate(-32.0 722.0 68.0)" fill="#809e00"/>
<ellipse cx="742.0" cy="90.0" rx="6.0" ry="5.0" transform="rotate(0.0 742.0 90.0)" fill="#8b9e00"/>
<ellipse cx="10.0" cy="342.0" rx="8.0" ry="8.0" transform="rotate(0.0 10.0 342.0)" fill="#419e00"/>
<ellipse cx="490.0" cy="337.0" rx="5.0" ry="10.0" transform="rotate(20.0 490.0 337.0)" fill="#d3ff00"/>
<ellipse cx="532.0" cy="340.0" rx="8.0" ry="6.0" transform="rotate(0.0 532.0 340.0)" fill="#ccff00"/>
<ellipse cx="310.0" cy="44.0" rx="95.0" ry="8.0" transform="rotate(0.0 310.0 44.0)" fill="#a06600"/>
<ellipse cx="122.0" cy="236.0" rx="10.0" ry="8.0" transform="rotate(30.0 122.0 236.0)" fill="#e89e00"/>
<ellipse cx="96.0" cy="200.0" rx="5.0" ry="14.0" transform="rotate(25.0 96.0 200.0)" fill="#d19e00"/>
<ellipse cx="185.0" cy="262.0" rx="22.0" ry="5.0" transform="rotate(10.0 185.0 262.0)" fill="#d19e00"/>
</g>
<g fill="#000" shape-rendering="crispEdges">
<polygon points="0.0,45.0 68.0,45.0 73.8,49.4 72.5,55.0 70.6,61.2 67.5,63.8 63.8,70.0 60.0,76.2 55.0,82.5 50.0,87.5 43.8,91.2 33.8,94.4 25.0,96.9 18.8,99.0 14.0,101.0 13.5,105.0 16.9,107.5 15.6,112.0 12.5,115.6 7.5,117.8 3.8,116.2 1.9,112.5 2.8,109.4 5.6,106.9 9.4,105.6 11.5,104.0 11.0,101.0 7.5,99.4 4.0,99.0 0.0,98.8"/>
<polygon points="70.0,76.2 72.9,77.5 72.5,83.8 70.6,90.0 67.5,96.2 65.6,96.9 62.5,92.5 61.0,86.9 62.5,82.5 65.6,77.5"/>
<polygon points="0.0,127.5 4.5,128.0 6.0,133.0 7.0,140.0 8.0,147.5 6.2,153.8 3.0,155.5 0.0,155.6"/>
<polygon points="63.8,113.8 75.0,114.4 75.6,122.5 72.5,127.5 70.6,132.5 73.8,136.9 80.0,138.0 83.0,142.5 87.5,146.0 90.0,146.2 91.9,151.2 91.2,155.0 89.4,158.8 93.0,161.2 96.2,167.5 96.9,173.8 93.8,180.0 89.4,184.8 85.0,181.9 81.2,177.5 81.2,174.4 75.0,175.0 72.5,177.5 71.0,173.8 71.9,170.6 75.6,168.8 75.0,165.0 72.5,161.2 73.0,156.2 70.0,155.0 70.6,150.0 67.5,148.8 65.0,145.0 63.0,141.2 63.8,140.0 60.6,133.8 60.2,127.5 62.2,125.0 62.5,118.8"/>
<polygon points="46.5,167.0 58.5,153.0 61.0,154.5 60.0,158.0 49.0,170.0 47.0,170.0"/>
<polygon points="46.9,175.0 50.0,176.2 53.8,182.5 58.8,185.0 57.5,187.5 53.8,190.0 51.2,195.0 53.8,201.2 58.8,206.2 56.2,208.0 51.2,209.4 50.0,213.8 47.5,218.8 45.6,221.2 45.0,226.2 42.5,230.0 37.5,231.9 35.0,233.8 32.5,231.2 25.0,230.0 18.8,230.6 16.2,227.5 11.2,226.2 8.8,218.8 5.0,212.5 3.0,206.2 5.6,201.2 8.8,200.0 13.8,201.2 16.2,197.5 20.0,195.6 25.0,192.5 32.5,186.2 40.0,180.0"/>
<polygon points="59.4,208.8 65.0,204.4 70.0,204.4 77.5,206.9 82.5,205.6 87.5,202.2 90.0,203.1 89.4,205.6 85.0,209.4 82.5,212.5 80.0,212.5 75.0,210.6 67.5,210.6 63.8,213.8 66.2,215.6 72.5,214.4 78.8,213.8 80.6,215.6 78.8,217.5 73.8,220.0 71.2,222.5 73.1,226.9 76.9,232.5 79.0,238.1 78.1,241.5 75.0,241.9 71.9,238.1 68.1,232.5 65.2,230.0 65.0,240.0 62.5,241.5 58.8,240.6 58.5,232.5 55.6,228.8 55.6,223.8 58.1,217.5 58.8,212.5"/>
<polygon points="100.2,200.6 103.0,199.7 104.6,202.0 106.7,201.6 108.0,204.4 107.4,208.1 106.3,211.0 106.5,215.2 104.9,217.0 103.0,215.2 102.5,212.4 101.1,211.4 100.8,209.1 98.8,208.1 98.6,204.9 99.7,202.5"/>
<polygon points="98.8,219.4 101.1,217.5 104.6,219.2 104.4,221.7 100.2,222.2 98.3,220.8"/>
<polygon points="0.0,243.0 12.5,245.0 15.0,243.0 25.0,247.5 30.6,248.0 33.8,251.2 37.5,252.5 43.8,253.8 52.5,253.0 62.5,253.0 70.0,254.4 77.5,253.0 80.6,254.4 80.0,256.9 75.0,258.0 70.0,257.5 62.5,256.9 55.0,258.0 50.0,259.4 43.8,259.4 38.8,256.9 36.2,257.5 32.5,256.2 25.0,255.0 12.5,253.8 0.0,252.5"/>
<polygon points="55.6,259.4 62.5,258.8 67.5,262.5 67.5,265.0 63.8,266.0 58.8,263.8 55.0,261.9"/>
<polygon points="78.8,262.5 82.5,260.0 87.5,257.5 85.0,252.5 90.0,253.0 92.5,250.0 97.5,248.8 97.5,252.5 100.0,255.0 98.8,257.5 93.8,258.8 88.8,261.9 83.8,265.0 79.4,266.9"/>
<polygon points="35.0,379.0 31.0,365.0 27.5,352.5 27.0,342.5 29.5,330.0 34.0,324.0 40.0,320.0 50.0,317.5 65.0,315.0 70.0,311.0 72.5,302.5 75.0,300.0 80.0,295.0 85.0,292.5 87.5,288.8 95.0,283.8 100.0,282.5 103.0,284.5 106.2,288.0 110.0,283.8 112.5,278.8 115.0,275.0 111.9,273.8 112.5,271.2 115.0,269.4 121.2,269.4 121.9,272.5 125.0,270.0 131.2,271.9 138.8,273.8 146.2,273.0 150.6,276.2 148.8,280.0 145.0,283.0 144.4,288.8 150.0,292.5 157.5,297.0 165.0,300.0 167.5,303.8 170.0,301.0 171.2,290.0 171.9,282.5 173.0,276.2 175.0,270.0 177.5,266.9 180.0,270.0 182.5,276.2 185.0,283.8 188.0,285.6 191.9,290.0 193.8,295.0 195.0,300.0 196.2,305.0 205.0,313.8 215.0,325.0 222.5,333.8 226.2,337.5 231.2,345.0 235.0,355.0 235.0,370.0 232.5,379.0"/>
<polygon points="115.6,215.6 118.8,213.1 122.5,212.2 127.5,211.9 133.1,212.2 135.4,214.0 135.9,218.8 137.2,223.1 139.8,226.9 141.9,224.8 145.6,221.2 150.0,218.8 153.1,218.1 160.0,221.2 170.0,225.0 180.0,228.1 187.5,231.2 192.5,234.4 195.6,237.5 200.0,240.2 206.2,240.9 206.9,243.1 202.5,246.2 205.0,249.4 208.8,253.0 212.5,256.9 217.5,261.2 220.6,263.8 220.0,267.5 213.8,266.9 205.0,263.0 200.0,258.8 195.0,253.0 188.0,252.5 183.8,255.0 182.5,258.8 177.5,260.6 168.8,258.8 163.8,255.6 151.2,255.0 155.6,249.4 153.8,243.8 153.8,241.2 147.5,237.5 141.2,235.6 135.6,233.5 131.9,231.9 128.8,229.0 125.0,225.6 120.6,221.2 116.9,218.8"/>
<polygon points="206.6,239.4 209.8,238.8 216.0,238.5 221.0,236.5 222.9,233.5 225.0,231.2 222.5,228.5 219.1,226.0 219.5,223.8 222.5,224.5 228.8,228.1 233.2,231.0 233.8,234.4 231.0,237.5 228.2,236.5 225.4,239.8 218.5,241.8 211.0,242.2 207.2,241.5"/>
<polygon points="698.8,45.0 707.5,45.0 712.0,52.5 717.0,58.8 722.5,67.5 726.0,76.0 728.8,81.0 733.0,83.0 735.0,87.5 732.0,92.5 729.0,91.0 726.0,86.0 719.0,80.6 718.0,76.0 715.0,72.5 708.8,67.0 704.0,63.0 708.8,60.0 705.0,55.0 700.6,52.0"/>
<polygon points="715.0,45.0 879.4,45.0 881.2,53.8 883.8,62.5 886.0,70.0 885.0,76.0 882.5,79.0 879.0,80.0 877.5,78.8 875.0,75.0 872.0,67.5 870.0,60.0 867.5,53.8 863.8,51.2 857.5,52.5 852.5,48.8 840.0,48.0 838.0,50.0 839.4,52.5 837.5,56.2 827.5,55.6 825.0,53.0 816.0,52.2 810.0,53.8 802.5,58.8 797.5,63.8 796.0,71.0 797.5,76.0 795.6,81.0 795.0,92.5 797.5,100.0 802.5,108.8 806.0,112.5 811.0,115.6 817.5,113.8 827.5,112.5 830.0,106.0 831.0,100.0 837.5,98.0 845.0,97.0 850.6,97.8 851.2,102.5 848.8,106.0 847.5,112.5 845.0,120.0 842.5,127.5 850.0,128.8 862.5,128.8 866.0,130.6 869.6,133.8 869.0,140.0 867.8,146.0 867.0,153.8 870.0,158.8 876.5,163.0 881.5,164.0 886.5,162.0 891.5,161.0 896.5,163.8 900.0,167.5 904.0,163.8 907.8,157.5 909.0,154.0 916.5,152.5 921.5,150.6 926.5,147.0 929.0,146.0 931.5,148.8 929.0,153.0 932.8,152.0 936.5,148.0 941.5,149.0 947.0,151.0 947.0,379.0 927.0,379.0 929.0,367.5 931.0,353.0 933.0,332.0 934.0,315.0 931.0,305.0 922.8,299.8 912.0,294.6 905.0,288.0 902.0,280.0 899.0,275.0 894.0,266.0 890.0,256.0 884.0,247.5 878.4,242.5 877.0,235.0 879.0,231.0 882.8,227.5 880.0,223.8 879.6,217.5 881.5,213.8 884.0,207.0 889.0,203.8 891.5,198.8 896.5,196.0 897.8,190.0 896.5,183.8 897.0,178.0 894.0,175.0 891.5,170.0 889.0,167.0 885.0,169.0 886.5,171.0 885.0,174.0 880.0,175.6 879.0,173.0 871.5,170.6 865.0,167.5 861.5,163.0 855.0,160.6 854.0,155.0 849.0,150.0 845.0,147.0 840.0,145.0 832.5,143.0 825.0,139.0 818.8,135.0 812.5,130.0 808.8,128.8 802.5,130.6 797.5,129.0 790.0,125.6 783.7,125.8 771.0,119.5 762.0,113.0 753.4,107.0 753.0,100.0 752.5,95.0 746.0,87.5 740.0,80.6 734.0,76.0 731.0,70.0 726.0,63.0 718.0,56.0"/>
<polygon points="859.9,95.8 861.5,92.7 865.6,90.1 872.9,88.0 881.2,89.1 887.5,91.7 894.8,94.3 901.0,97.4 908.3,101.0 914.6,104.2 916.7,106.2 914.6,107.8 908.3,108.5 901.0,108.9 896.4,108.3 899.0,105.2 895.8,103.6 892.7,103.1 891.7,100.5 885.4,98.4 880.2,97.4 874.0,95.3 872.4,94.3 869.8,94.8 865.6,95.8 864.6,97.4 862.5,98.1 860.2,97.7"/>
<polygon points="868.2,95.3 871.4,94.6 873.8,96.9 874.0,99.8 868.8,99.8 867.9,97.4"/>
<polygon points="918.2,106.2 922.9,105.7 929.2,106.2 936.5,107.3 941.7,110.4 947.0,114.1 947.4,116.1 943.8,117.7 940.6,116.7 935.4,117.2 932.3,118.8 929.7,121.9 927.1,119.8 924.0,118.2 918.8,118.8 914.6,117.7 913.0,115.6 914.1,113.5 917.7,114.1 921.9,114.6 921.4,110.4 918.8,109.4"/>
<polygon points="893.2,115.1 895.8,114.1 901.0,114.4 904.7,116.1 905.7,118.8 903.1,120.0 897.9,119.8 894.3,118.2"/>
<polygon points="892.2,79.2 894.8,77.1 896.9,77.6 898.4,82.3 899.0,87.5 897.4,88.5 895.3,85.4 893.2,81.8"/>
<polygon points="875.0,80.7 877.6,80.0 879.2,81.2 876.9,83.1 875.0,82.1"/>
<polygon points="901.6,75.5 903.6,75.0 905.7,78.6 904.2,80.2 902.1,77.6"/>
<polygon points="906.8,80.7 908.9,80.2 910.6,82.8 909.4,84.4 907.3,82.8"/>
<polygon points="908.1,85.9 910.4,85.4 912.8,89.6 912.0,91.7 909.9,89.6"/>
<polygon points="913.8,90.1 916.7,90.6 918.8,92.2 916.1,95.8 914.6,93.8"/>
<polygon points="920.0,92.2 922.4,91.9 922.9,94.3 920.6,94.8"/>
<polygon points="922.9,96.4 926.0,95.3 930.0,96.4 929.7,98.8 926.6,98.1 923.4,98.4"/>
<polygon points="917.5,99.8 920.3,99.0 921.9,100.5 921.4,102.9 918.2,102.9"/>
<polygon points="890.8,69.0 895.0,67.5 900.8,68.3 901.7,72.5 900.0,73.3 898.3,70.8 895.0,70.0 891.7,71.3"/>
<polygon points="301.5,288.5 304.5,287.3 307.5,291.0 310.0,297.5 308.5,299.5 306.0,298.0 303.5,293.0"/>
<polygon points="288.3,318.5 291.5,316.8 297.0,320.0 302.0,324.0 306.3,328.5 305.5,331.5 301.5,331.3 295.0,326.5 289.5,321.5"/>
<polygon points="356.0,302.0 359.0,299.0 364.0,298.0 368.0,295.0 372.0,294.5 371.5,297.0 366.0,300.0 364.5,304.0 361.0,307.5 357.0,307.0"/>
<polygon points="406.0,281.0 411.0,281.5 416.0,284.0 415.5,286.0 410.0,284.5 406.0,283.0"/>
<polygon points="239.1,239.4 242.2,238.8 246.0,242.5 249.8,245.6 254.1,248.1 254.8,250.0 251.6,249.4 248.5,247.5 245.4,248.1 242.2,245.0 239.8,241.9"/>
<polygon points="252.9,252.1 254.8,251.9 257.2,255.6 256.0,256.9 254.1,255.0"/>
<polygon points="259.1,250.4 261.0,250.0 266.6,253.8 266.0,255.6 263.5,254.8"/>
<polygon points="263.5,260.0 267.2,258.8 272.2,259.4 275.4,261.9 274.8,264.4 271.0,264.4 266.0,263.1 263.5,261.9"/>
<polygon points="269.8,255.0 272.2,254.4 274.1,258.1 275.4,261.9 273.5,261.2 271.0,257.5"/>
<polygon points="272.9,264.4 276.0,263.5 280.4,265.6 281.0,268.1 277.9,268.8 274.1,266.9"/>
<polygon points="101.8,226.9 104.6,225.2 111.0,225.2 116.1,226.9 118.5,229.7 117.5,231.8 112.8,231.8 107.2,231.4 103.0,230.2 101.6,228.3"/>
<polygon points="92.2,227.8 95.0,227.1 98.8,227.6 99.9,229.7 97.8,232.5 95.0,232.3 92.7,231.1"/>
<polygon points="493.1,105.8 496.3,104.7 499.6,106.1 502.2,109.4 499.3,112.0 496.7,113.8 493.8,113.6 493.1,110.5 492.0,108.3"/>
<polygon points="481.0,98.5 483.6,95.9 485.8,97.0 486.5,98.8 489.8,99.2 491.6,100.7 493.8,99.9 495.6,102.1 496.0,105.0 493.4,105.4 491.2,104.3 490.1,102.1 486.9,101.4 482.5,100.7"/>
<polygon points="471.2,96.3 475.9,93.0 478.1,93.4 478.1,97.8 472.7,97.8"/>
<polygon points="824.5,212.0 828.0,210.5 830.0,212.0 830.5,216.0 831.7,218.0 829.0,219.5 825.5,219.0 824.0,216.0"/>
<ellipse cx="110.6" cy="59.8" rx="1.4" ry="2.4" transform="rotate(20.0 110.6 59.8)"/>
<ellipse cx="102.8" cy="70.6" rx="1.6" ry="3.2" transform="rotate(30.0 102.8 70.6)"/>
<ellipse cx="527.8" cy="303.5" rx="2.2" ry="2.2" transform="rotate(0.0 527.8 303.5)"/>
<ellipse cx="200.5" cy="222.2" rx="1.6" ry="1.6" transform="rotate(0.0 200.5 222.2)"/>
<ellipse cx="86.5" cy="221.0" rx="2.6" ry="1.0" transform="rotate(0.0 86.5 221.0)"/>
<ellipse cx="144.5" cy="216.0" rx="2.6" ry="3.6" transform="rotate(-25.0 144.5 216.0)"/>
<ellipse cx="135.8" cy="244.4" rx="2.4" ry="4.6" transform="rotate(10.0 135.8 244.4)"/>
<ellipse cx="120.3" cy="250.6" rx="2.6" ry="2.9" transform="rotate(20.0 120.3 250.6)"/>
</g>
<polygon points="927.3,145.2 929.5,145.6 932.6,148.6 933.6,151.5 931.5,154.5 929.0,155.3 928.3,154.3 930.8,152.8 932.0,150.8 931.0,148.6 928.6,146.6" fill="#fdc860" shape-rendering="crispEdges"/>
<polygon points="72.0,142.5 74.8,141.9 77.9,144.8 81.6,145.2 82.9,147.5 81.6,150.6 79.1,150.2 76.0,148.8 73.5,145.6" fill="#fdeeab" shape-rendering="crispEdges"/>
<polygon points="77.5,146.0 80.0,146.3 80.5,148.5 78.0,148.5" fill="#fdd978" shape-rendering="crispEdges"/>
<polygon points="79.1,166.2 82.9,165.0 86.6,162.8 89.1,160.0 90.0,161.2 87.9,164.4 84.1,166.5 80.4,167.2" fill="#fdeeab" shape-rendering="crispEdges"/>
<g fill="#000" shape-rendering="crispEdges">
<rect x="91.00" y="210.1" width="3.6" height="3.7"/><rect x="100.93" y="210.1" width="3.6" height="3.7"/><rect x="110.85" y="210.1" width="3.6" height="3.7"/><rect x="120.78" y="210.1" width="3.6" height="3.7"/><rect x="130.71" y="210.1" width="3.6" height="3.7"/><rect x="140.63" y="210.1" width="3.6" height="3.7"/><rect x="150.56" y="210.1" width="3.6" height="3.7"/><rect x="160.49" y="210.1" width="3.6" height="3.7"/><rect x="170.42" y="210.1" width="3.6" height="3.7"/><rect x="180.34" y="210.1" width="3.6" height="3.7"/><rect x="190.27" y="210.1" width="3.6" height="3.7"/><rect x="200.20" y="210.1" width="3.6" height="3.7"/><rect x="210.12" y="210.1" width="3.6" height="3.7"/><rect x="220.05" y="210.1" width="3.6" height="3.7"/><rect x="229.98" y="210.1" width="3.6" height="3.7"/><rect x="239.91" y="210.1" width="3.6" height="3.7"/><rect x="249.83" y="210.1" width="3.6" height="3.7"/><rect x="259.76" y="210.1" width="3.6" height="3.7"/><rect x="269.69" y="210.1" width="3.6" height="3.7"/><rect x="279.61" y="210.1" width="3.6" height="3.7"/><rect x="289.54" y="210.1" width="3.6" height="3.7"/><rect x="299.47" y="210.1" width="3.6" height="3.7"/><rect x="309.39" y="210.1" width="3.6" height="3.7"/><rect x="319.32" y="210.1" width="3.6" height="3.7"/><rect x="329.25" y="210.1" width="3.6" height="3.7"/><rect x="339.17" y="210.1" width="3.6" height="3.7"/><rect x="349.10" y="210.1" width="3.6" height="3.7"/><rect x="359.03" y="210.1" width="3.6" height="3.7"/><rect x="368.96" y="210.1" width="3.6" height="3.7"/><rect x="378.88" y="210.1" width="3.6" height="3.7"/><rect x="388.81" y="210.1" width="3.6" height="3.7"/><rect x="398.74" y="210.1" width="3.6" height="3.7"/><rect x="408.66" y="210.1" width="3.6" height="3.7"/><rect x="418.59" y="210.1" width="3.6" height="3.7"/><rect x="428.52" y="210.1" width="3.6" height="3.7"/><rect x="438.44" y="210.1" width="3.6" height="3.7"/><rect x="448.37" y="210.1" width="3.6" height="3.7"/><rect x="458.30" y="210.1" width="3.6" height="3.7"/><rect x="468.23" y="210.1" width="3.6" height="3.7"/><rect x="478.15" y="210.1" width="3.6" height="3.7"/><rect x="488.08" y="210.1" width="3.6" height="3.7"/><rect x="498.01" y="210.1" width="3.6" height="3.7"/><rect x="507.93" y="210.1" width="3.6" height="3.7"/><rect x="517.86" y="210.1" width="3.6" height="3.7"/><rect x="527.79" y="210.1" width="3.6" height="3.7"/><rect x="537.71" y="210.1" width="3.6" height="3.7"/><rect x="547.64" y="210.1" width="3.6" height="3.7"/><rect x="557.57" y="210.1" width="3.6" height="3.7"/><rect x="567.50" y="210.1" width="3.6" height="3.7"/><rect x="577.42" y="210.1" width="3.6" height="3.7"/><rect x="587.35" y="210.1" width="3.6" height="3.7"/><rect x="597.28" y="210.1" width="3.6" height="3.7"/><rect x="607.20" y="210.1" width="3.6" height="3.7"/><rect x="617.13" y="210.1" width="3.6" height="3.7"/><rect x="627.06" y="210.1" width="3.6" height="3.7"/><rect x="636.99" y="210.1" width="3.6" height="3.7"/><rect x="646.91" y="210.1" width="3.6" height="3.7"/><rect x="656.84" y="210.1" width="3.6" height="3.7"/><rect x="666.77" y="210.1" width="3.6" height="3.7"/><rect x="676.69" y="210.1" width="3.6" height="3.7"/><rect x="686.62" y="210.1" width="3.6" height="3.7"/><rect x="696.55" y="210.1" width="3.6" height="3.7"/><rect x="706.47" y="210.1" width="3.6" height="3.7"/><rect x="716.40" y="210.1" width="3.6" height="3.7"/><rect x="726.33" y="210.1" width="3.6" height="3.7"/><rect x="736.25" y="210.1" width="3.6" height="3.7"/><rect x="746.18" y="210.1" width="3.6" height="3.7"/><rect x="756.11" y="210.1" width="3.6" height="3.7"/><rect x="766.04" y="210.1" width="3.6" height="3.7"/><rect x="775.96" y="210.1" width="3.6" height="3.7"/><rect x="785.89" y="210.1" width="3.6" height="3.7"/><rect x="795.82" y="210.1" width="3.6" height="3.7"/><rect x="805.74" y="210.1" width="3.6" height="3.7"/><rect x="815.67" y="210.1" width="3.6" height="3.7"/><rect x="825.60" y="210.1" width="3.6" height="3.7"/><rect x="835.52" y="210.1" width="3.6" height="3.7"/><rect x="845.45" y="210.1" width="3.6" height="3.7"/><rect x="855.38" y="210.1" width="3.6" height="3.7"/><rect x="865.31" y="210.1" width="3.6" height="3.7"/><rect x="875.23" y="210.1" width="3.6" height="3.7"/>
<rect x="369.1" y="52.90" width="3" height="3.9"/><rect x="369.1" y="62.84" width="3" height="3.9"/><rect x="369.1" y="72.78" width="3" height="3.9"/><rect x="369.1" y="82.72" width="3" height="3.9"/><rect x="369.1" y="92.66" width="3" height="3.9"/><rect x="369.1" y="102.60" width="3" height="3.9"/><rect x="369.1" y="112.54" width="3" height="3.9"/><rect x="369.1" y="122.48" width="3" height="3.9"/><rect x="369.1" y="132.42" width="3" height="3.9"/><rect x="369.1" y="142.36" width="3" height="3.9"/><rect x="369.1" y="152.30" width="3" height="3.9"/><rect x="369.1" y="162.24" width="3" height="3.9"/><rect x="369.1" y="172.18" width="3" height="3.9"/><rect x="369.1" y="182.12" width="3" height="3.9"/><rect x="369.1" y="192.06" width="3" height="3.9"/><rect x="369.1" y="202.00" width="3" height="3.9"/><rect x="369.1" y="211.94" width="3" height="3.9"/><rect x="369.1" y="221.88" width="3" height="3.9"/><rect x="369.1" y="231.82" width="3" height="3.9"/><rect x="369.1" y="241.76" width="3" height="3.9"/><rect x="369.1" y="251.70" width="3" height="3.9"/><rect x="369.1" y="261.64" width="3" height="3.9"/><rect x="369.1" y="271.58" width="3" height="3.9"/><rect x="369.1" y="281.52" width="3" height="3.9"/><rect x="369.1" y="291.46" width="3" height="3.9"/><rect x="369.1" y="301.40" width="3" height="3.9"/><rect x="369.1" y="311.34" width="3" height="3.9"/><rect x="369.1" y="321.28" width="3" height="3.9"/><rect x="369.1" y="331.22" width="3" height="3.9"/><rect x="369.1" y="341.16" width="3" height="3.9"/><rect x="369.1" y="351.10" width="3" height="3.9"/><rect x="369.1" y="361.04" width="3" height="3.9"/><rect x="369.1" y="370.98" width="3" height="3.9"/>
</g>
<text x="628.3" y="362" transform="matrix(1 0 0 1.045 0 -16.290)" font-size="12" fill="#7a7a7a">Fuente: NOAA OI SST V2 High Resolution Dataset</text>
</g>
<rect x="946" y="46" width="1" height="332" fill="#4a4a4a" shape-rendering="crispEdges"/>
<text x="473.6" y="20.7" transform="matrix(1 0 0 1.045 0 -0.931)" font-size="27.8" fill="#555" text-anchor="middle">Agosto 2010</text>
<g shape-rendering="crispEdges">
<rect x="127.00" y="437.0" width="36.77" height="18.0" fill="#1c2a5e"/>
<rect x="163.47" y="437.0" width="36.77" height="18.0" fill="#21438a"/>
<rect x="199.95" y="437.0" width="36.77" height="18.0" fill="#245fad"/>
<rect x="236.42" y="437.0" width="36.77" height="18.0" fill="#3c80c1"/>
<rect x="272.89" y="437.0" width="36.77" height="18.0" fill="#5aa5d9"/>
<rect x="309.37" y="437.0" width="36.77" height="18.0" fill="#7ec3ea"/>
<rect x="345.84" y="437.0" width="36.77" height="18.0" fill="#a3dcf6"/>
<rect x="382.32" y="437.0" width="36.77" height="18.0" fill="#c4e7f8"/>
<rect x="418.79" y="437.0" width="36.77" height="18.0" fill="#dff2fa"/>
<rect x="455.26" y="437.0" width="36.77" height="18.0" fill="#ffffff"/>
<rect x="491.74" y="437.0" width="36.77" height="18.0" fill="#fef9e3"/>
<rect x="528.21" y="437.0" width="36.77" height="18.0" fill="#fdeeab"/>
<rect x="564.68" y="437.0" width="36.77" height="18.0" fill="#fdd978"/>
<rect x="601.16" y="437.0" width="36.77" height="18.0" fill="#fdb840"/>
<rect x="637.63" y="437.0" width="36.77" height="18.0" fill="#fb9a2a"/>
<rect x="674.11" y="437.0" width="36.77" height="18.0" fill="#f47824"/>
<rect x="710.58" y="437.0" width="36.77" height="18.0" fill="#e64f27"/>
<rect x="747.05" y="437.0" width="36.77" height="18.0" fill="#d4242a"/>
<rect x="783.53" y="437.0" width="36.77" height="18.0" fill="#b51a22"/>
<rect x="127.0" y="455.0" width="694.0" height="1" fill="#333"/>
<rect x="144.74" y="453.5" width="1" height="1.5" fill="#333" shape-rendering="auto"/>
<rect x="181.21" y="453.5" width="1" height="1.5" fill="#333" shape-rendering="auto"/>
<rect x="217.68" y="453.5" width="1" height="1.5" fill="#333" shape-rendering="auto"/>
<rect x="254.16" y="453.5" width="1" height="1.5" fill="#333" shape-rendering="auto"/>
<rect x="290.63" y="453.5" width="1" height="1.5" fill="#333" shape-rendering="auto"/>
<rect x="327.11" y="453.5" width="1" height="1.5" fill="#333" shape-rendering="auto"/>
<rect x="363.58" y="453.5" width="1" height="1.5" fill="#333" shape-rendering="auto"/>
<rect x="400.05" y="453.5" width="1" height="1.5" fill="#333" shape-rendering="auto"/>
<rect x="436.53" y="453.5" width="1" height="1.5" fill="#333" shape-rendering="auto"/>
<rect x="473.00" y="453.5" width="1" height="1.5" fill="#333" shape-rendering="auto"/>
<rect x="509.47" y="453.5" width="1" height="1.5" fill="#333" shape-rendering="auto"/>
<rect x="545.95" y="453.5" width="1" height="1.5" fill="#333" shape-rendering="auto"/>
<rect x="582.42" y="453.5" width="1" height="1.5" fill="#333" shape-rendering="auto"/>
<rect x="618.89" y="453.5" width="1" height="1.5" fill="#333" shape-rendering="auto"/>
<rect x="655.37" y="453.5" width="1" height="1.5" fill="#333" shape-rendering="auto"/>
<rect x="691.84" y="453.5" width="1" height="1.5" fill="#333" shape-rendering="auto"/>
<rect x="728.32" y="453.5" width="1" height="1.5" fill="#333" shape-rendering="auto"/>
<rect x="764.79" y="453.5" width="1" height="1.5" fill="#333" shape-rendering="auto"/>
<rect x="801.26" y="453.5" width="1" height="1.5" fill="#333" shape-rendering="auto"/>
</g>
<text x="145.74" y="479" transform="matrix(1 0 0 1.045 0 -21.555)" font-size="19" fill="#333" text-anchor="middle">-4.5</text>
<text x="218.68" y="479" transform="matrix(1 0 0 1.045 0 -21.555)" font-size="19" fill="#333" text-anchor="middle">-3.5</text>
<text x="291.63" y="479" transform="matrix(1 0 0 1.045 0 -21.555)" font-size="19" fill="#333" text-anchor="middle">-2.5</text>
<text x="364.58" y="479" transform="matrix(1 0 0 1.045 0 -21.555)" font-size="19" fill="#333" text-anchor="middle">-1.5</text>
<text x="437.53" y="479" transform="matrix(1 0 0 1.045 0 -21.555)" font-size="19" fill="#333" text-anchor="middle">-0.5</text>
<text x="512.57" y="479" transform="matrix(1 0 0 1.045 0 -21.555)" font-size="19" fill="#333" text-anchor="middle">0.5</text>
<text x="585.52" y="479" transform="matrix(1 0 0 1.045 0 -21.555)" font-size="19" fill="#333" text-anchor="middle">1.5</text>
<text x="658.47" y="479" transform="matrix(1 0 0 1.045 0 -21.555)" font-size="19" fill="#333" text-anchor="middle">2.5</text>
<text x="731.42" y="479" transform="matrix(1 0 0 1.045 0 -21.555)" font-size="19" fill="#333" text-anchor="middle">3.5</text>
<text x="804.36" y="479" transform="matrix(1 0 0 1.045 0 -21.555)" font-size="19" fill="#333" text-anchor="middle">4.5</text>
<text x="257.4" y="430.1" transform="matrix(1 0 0 1.045 0 -19.354)" font-size="16.9" fill="#555" xml:space="preserve">Anomalias de temperatura superficial del mar - SSTA <tspan dx="1.4"> [</tspan><tspan font-size="7" dy="-6.3">o</tspan><tspan dy="6.3">C]</tspan></text>
</svg>
</body></html>
